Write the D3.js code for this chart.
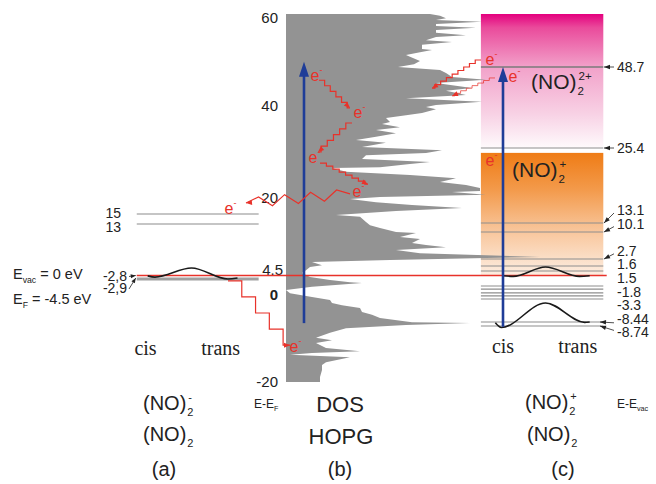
<!DOCTYPE html>
<html>
<head>
<meta charset="utf-8">
<script src="https://cdn.jsdelivr.net/npm/d3@7/dist/d3.min.js"></script>
<style>
  body { margin: 0; background: #fff; }
  svg { font-family: "Liberation Sans", Arial, sans-serif; }
</style>
</head>
<body>
<svg id="chart" width="656" height="484"></svg>
<script>
/***************************************************************
    Data
****************************************************************/
// HOPG density of states (E - E_F in eV, arbitrary DOS units)
const dosEnergy = [60.0, 59.6, 59.1, 58.7, 58.3, 57.8, 57.4, 57.0, 56.5, 55.9, 55.4, 55.0, 54.3, 53.9, 53.3,
  52.4, 52.2, 51.7, 51.1, 50.7, 49.8, 49.1, 48.5, 47.8, 47.2, 46.3, 45.7, 45.0, 43.9, 43.3, 42.4, 41.7,
  40.9, 40.2, 39.8, 39.3, 38.5, 38.0, 37.4, 36.5, 36.1, 35.4, 34.8, 34.1, 33.3, 32.6, 32.0, 31.1, 30.4,
  29.8, 29.3, 28.5, 27.8, 27.4, 26.7, 26.5, 25.7, 25.0, 24.3, 23.5, 22.8, 22.2, 21.5, 21.3, 20.7, 20.2,
  19.8, 19.1, 18.5, 17.8, 17.2, 16.3, 15.9, 14.8, 14.1, 13.5, 12.6, 12.4, 11.5, 11.1, 10.2, 9.8, 9.3,
  8.7, 8.0, 7.2, 6.5, 6.1, 5.4, 5.0, 4.3, 3.7, 2.8, 2.2, 1.7, 1.5, 0.7, 0.0, -0.7, -1.5, -2.2, -2.8,
  -3.3, -3.9, -4.8, -5.4, -6.1, -7.0, -7.2, -7.6, -8.3, -9.3, -10.4, -10.9, -11.5, -12.6, -13.3, -13.7,
  -14.1, -14.6, -15.7, -16.3, -17.4, -18.9, -20.0];
const dosValue = [72, 77, 80, 75, 98, 75, 75, 95, 75, 75, 90, 75, 70, 83, 68,
  68, 73, 67, 60, 62, 67, 64, 56, 77, 80, 83, 100, 75, 93, 80, 90, 60,
  98, 75, 70, 75, 68, 60, 50, 52, 48, 57, 45, 55, 45, 35, 50, 38, 78,
  70, 40, 38, 72, 62, 47, 23, 30, 62, 85, 77, 90, 97, 97, 83, 100, 47,
  32, 45, 63, 88, 55, 25, 37, 40, 42, 47, 55, 65, 57, 67, 63, 70, 80,
  55, 67, 127, 52, 13, 18, 12, 10, 8, 12, 22, 32, 38, 13, 0, 2, 13, 22, 23,
  28, 37, 38, 43, 47, 63, 92, 60, 30, 22, 15, 23, 15, 20, 37, 13,
  2, 32, 20, 18, 18, 17, 17];
const dosTicks = [60, 40, 20, 4.5, 0, -20];

// (a) (NO)2- levels, E - E_vac in eV
const anionLevels = [15, 13];
const anionGround = -2.9;
const anionLabels = [15, 13, -2.8, -2.9];
const anionLabelText = ["15", "13", "-2,8", "-2,9"];
const anionCurveQ = [-0.1, 0, 0.5, 1, 1.13];
const anionCurveE = [-2.81, -2.845, -0.5, -2.9, -2.87];

// (c) (NO)2+ / (NO)2 levels, E - E_vac in eV
const cationLevels = [48.7, 25.4, 13.1, 10.1, 2.7, 1.6, 1.5, -1.8, -2.15, -2.6, -2.95, -3.3, -8.44, -8.74];
const cationLabels = ["48.7", "25.4", "13.1", "10.1", "2.7", "1.6", "1.5", "-1.8", "-3.3", "-8.44", "-8.74"];
const cationArrowed = ["48.7", "25.4", "13.1", "10.1", "2.7", "-8.44", "-8.74"];
const upperCurveQ = [0, 0.12, 0.5, 0.9, 1.02];
const upperCurveE = [-0.05, -0.15, 1.58, -0.15, -0.05];
const lowerCurveQ = [-0.09, -0.02, 0.5, 0.96, 1.02];
const lowerCurveE = [-8.5, -8.85, -4.2, -8.47, -8.44];

// excitations (blue arrows)
const dosExcitation = [-7.2, 49.6];      // E - E_F
const cationExcitation = [-8.8, 48.7];   // E - E_vac

// electron hops, in DOS frame [dos units, E - E_F]
const hopFrom = [[16.5, 45.6], [33, 36.3], [17, 27.6], [32, 20.9], [97.5, 50.0], [104.5, 46.1], [-29, 2.0]];
const hopTo   = [[32, 39.6], [16, 30.0], [41, 23.0], [-20, 18.9], [73, 43.9], [83, 42.2], [2, -12.0]];
const electronAt = [[14.5, 46.5], [36, 38.3], [13.5, 28.5], [35.5, 21.1], [-28.5, 17.6],
  [102, 49.8], [113.5, 46.1], [102, 28.0], [4, -12.6]];

/***************************************************************
    Scales
****************************************************************/
const RED = "#e8322a", BLUE = "#1f3d98", GRAY = "#939393";
const svg = d3.select("#chart");
const defs = svg.append("defs");

const xDos = d3.scaleLinear().domain([0, 100]).range([286, 486]);
const yDos = d3.scaleLinear().domain([60, -20]).range([14, 382]);

// schematic (broken) energy axes of panels (a) and (c)
const yAnion = d3.scaleLinear().domain([15, 13, -2.8, -2.9]).range([214, 224, 275.5, 279]);
const yVac = d3.scaleLinear()
  .domain([60, 48.7, 25.4, 13.1, 10.1, 2.7, 1.6, 1.5, 0, -1.8, -3.3, -8.44, -8.74])
  .range([14, 67, 148, 223, 232, 259, 266, 271, 275.5, 286, 299, 322, 326]);
const xA = d3.scaleLinear().domain([0, 1]).range([155, 228]);   // cis .. trans
const xC = d3.scaleLinear().domain([0, 1]).range([503, 588]);
const spanA = [-0.25, 1.42], spanC = [-0.26, 1.18];

/***************************************************************
    Helpers
****************************************************************/
function arrowHead(g, tip, angle, len, wid, color) {
  const ux = Math.cos(angle), uy = Math.sin(angle);
  const bx = tip[0] - ux * len, by = tip[1] - uy * len;
  g.append("polygon")
    .attr("points", [[tip[0], tip[1]], [bx - uy * wid / 2, by + ux * wid / 2], [bx + uy * wid / 2, by - ux * wid / 2]].join(" "))
    .attr("fill", color);
}

function stairPoints(p0, p1, n) {
  const hx = (p1[0] - p0[0]) / (n + 0.5), vy = (p1[1] - p0[1]) / n;
  let x = p0[0], y = p0[1];
  const pts = [[x, y]];
  for (let i = 0; i < n; i++) { x += hx; pts.push([x, y]); y += vy; pts.push([x, y]); }
  pts.push(p1);
  return pts;
}

function zigPoints(p0, p1, halfPeriod, amp) {
  const dx = p1[0] - p0[0], dy = p1[1] - p0[1], L = Math.hypot(dx, dy);
  const n = Math.max(2, Math.round(L / halfPeriod));
  const nx = -dy / L, ny = dx / L;
  const pts = [p0];
  for (let i = 1; i < n; i++) {
    const s = (i % 2 ? amp : -amp), t = i / n;
    pts.push([p0[0] + dx * t + nx * s, p0[1] + dy * t + ny * s]);
  }
  pts.push(p1);
  return pts;
}

// chemical formula with stacked sub/superscripts
function formula(x, y, size, main, sub, sup) {
  const t = svg.append("text").attr("x", x).attr("y", y).attr("font-size", size).attr("fill", "#222").text(main);
  const w = t.node().getComputedTextLength();
  if (sub) svg.append("text").attr("x", x + w + 1).attr("y", y + size * 0.3).attr("font-size", size * 0.55).attr("fill", "#222").text(sub);
  if (sup) svg.append("text").attr("x", x + w + 2).attr("y", y - size * 0.45).attr("font-size", size * 0.55).attr("fill", "#222").text(sup);
}

function subLabel(x, y, size, main, sub) {
  const t = svg.append("text").attr("x", x).attr("y", y).attr("font-size", size).attr("fill", "#222");
  t.append("tspan").text(main);
  t.append("tspan").attr("font-size", size * 0.6).attr("dy", size * 0.25).text(sub);
  return t;
}

/***************************************************************
    Panel (c) background boxes
****************************************************************/
function gradient(id, y1, y2, stops) {
  const g = defs.append("linearGradient").attr("id", id)
    .attr("gradientUnits", "userSpaceOnUse").attr("x1", 0).attr("x2", 0).attr("y1", y1).attr("y2", y2);
  stops.forEach(s => g.append("stop").attr("offset", s[0]).attr("stop-color", s[1]));
}
gradient("pink", yVac(60), yVac(25.4), [[0, "#e4007e"], [0.1, "#ea4a9b"], [0.4, "#f2a2ca"], [0.75, "#f8d2e5"], [1, "#fefafc"]]);
gradient("orange", yVac(24.6), yVac(0), [[0, "#ef7c16"], [0.3, "#f39a4b"], [0.62, "#f8c498"], [1, "#fdeee2"]]);

svg.append("rect").attr("x", xC(spanC[0])).attr("width", xC(spanC[1]) - xC(spanC[0]))
  .attr("y", yVac(60)).attr("height", yVac(25.4) - yVac(60)).attr("fill", "url(#pink)");
svg.append("rect").attr("x", xC(spanC[0])).attr("width", xC(spanC[1]) - xC(spanC[0]))
  .attr("y", yVac(24.6)).attr("height", yVac(0) - yVac(24.6)).attr("fill", "url(#orange)");

/***************************************************************
    DOS (b)
****************************************************************/
const dos = dosEnergy.map((e, i) => ({ e: e, v: dosValue[i] }));
svg.append("path").datum(dos)
  .attr("fill", GRAY)
  .attr("d", d3.area().y(d => yDos(d.e)).x0(xDos(0)).x1(d => xDos(d.v)));

const axis = svg.append("g").attr("transform", "translate(278,0)")
  .call(d3.axisLeft(yDos).tickValues(dosTicks).tickSize(0).tickPadding(0).tickFormat(d => d));
axis.select(".domain").remove();
axis.selectAll("text").attr("font-size", 15).attr("fill", "#222").attr("font-family", "Liberation Sans, Arial, sans-serif");
axis.selectAll(".tick").filter(d => d === 0).select("text").attr("font-weight", "bold").attr("dy", "0.65em");
axis.selectAll(".tick").filter(d => d === 4.5).select("text").attr("x", 5);
axis.selectAll(".tick").filter(d => d === 60).select("text").attr("dy", "0.55em");

/***************************************************************
    Levels
****************************************************************/
// (a)
svg.selectAll(".lvA").data(anionLevels).enter().append("line")
  .attr("x1", xA(spanA[0])).attr("x2", xA(spanA[1]))
  .attr("y1", d => yAnion(d)).attr("y2", d => yAnion(d))
  .attr("stroke", "#8c8c8c").attr("stroke-width", 1.2);
svg.append("line").attr("x1", xA(spanA[0])).attr("x2", xA(spanA[1]))
  .attr("y1", yAnion(anionGround)).attr("y2", yAnion(anionGround))
  .attr("stroke", "#a0a0a0").attr("stroke-width", 3);

// (c)
svg.selectAll(".lvC").data(cationLevels).enter().append("line")
  .attr("x1", xC(spanC[0])).attr("x2", xC(spanC[1]))
  .attr("y1", d => yVac(d)).attr("y2", d => yVac(d))
  .attr("stroke", d => d === 48.7 ? "#7a7a7a" : "#8e8e8e")
  .attr("stroke-width", d => d === 48.7 ? 1.6 : 1.2);

// vacuum level
svg.append("line").attr("x1", xA(spanA[0])).attr("x2", xC(1.22))
  .attr("y1", yVac(0)).attr("y2", yVac(0)).attr("stroke", RED).attr("stroke-width", 1.6);

// potential curves
const lineQ = (xs, ys) => d3.line().x(d => xs(d[0])).y(d => ys(d[1])).curve(d3.curveMonotoneX);
[[anionCurveQ, anionCurveE, xA, yAnion], [upperCurveQ, upperCurveE, xC, yVac], [lowerCurveQ, lowerCurveE, xC, yVac]]
  .forEach(([q, e, xs, ys]) => {
    svg.append("path").datum(q.map((v, i) => [v, e[i]]))
      .attr("fill", "none").attr("stroke", "#1a1a1a").attr("stroke-width", 1.6)
      .attr("d", lineQ(xs, ys));
  });

/***************************************************************
    Excitation arrows
****************************************************************/
function blueArrow(x, y0, y1) {
  svg.append("line").attr("x1", x).attr("x2", x).attr("y1", y0).attr("y2", y1 + 12)
    .attr("stroke", BLUE).attr("stroke-width", 2.6);
  arrowHead(svg, [x, y1], -Math.PI / 2, 15, 10, BLUE);
}
blueArrow(xDos(9), yDos(dosExcitation[0]), yDos(dosExcitation[1]));
blueArrow(xC(0), yVac(cationExcitation[0]), yVac(cationExcitation[1]));

/***************************************************************
    Electron hops
****************************************************************/
const hops = svg.append("g");
hopFrom.forEach((f, i) => {
  const p0 = [xDos(f[0]), yDos(f[1])], p1 = [xDos(hopTo[i][0]), yDos(hopTo[i][1])];
  let pts;
  if (i === 3) pts = zigPoints(p0, p1, 12.5, 5);
  else if (i === 6) pts = stairPoints(p0, p1, 4);
  else pts = stairPoints(p0, p1, Math.max(4, Math.round(Math.max(Math.abs(p1[0] - p0[0]), Math.abs(p1[1] - p0[1])) / 6.5)));
  hops.append("path").attr("d", d3.line()(pts)).attr("fill", "none")
    .attr("stroke", RED).attr("stroke-width", i === 5 ? 0.9 : 1.2).attr("stroke-opacity", i === 5 ? 0.8 : 1);
  const b = pts[pts.length - 1];
  const ang = i === 6 ? 0 : Math.atan2(p1[1] - p0[1], p1[0] - p0[0]);
  arrowHead(hops, b, ang, 6, 5, RED);
});

electronAt.forEach(p => {
  const cx = xDos(p[0]), cy = yDos(p[1]);
  const t = svg.append("text").attr("x", cx - 4.5).attr("y", cy + 4.5).attr("font-size", 16).attr("fill", RED);
  t.append("tspan").text("e");
  t.append("tspan").attr("font-size", 9).attr("dy", -8).text("-");
});

/***************************************************************
    Labels
****************************************************************/
// (a) level labels
anionLabels.forEach((v, i) => {
  const y = yAnion(v) + (i === 3 ? 9 : 0) + (i === 1 ? 3 : 0) + (i === 0 ? -1 : 0);
  svg.append("text").attr("x", i < 2 ? 121 : 127).attr("y", y + 5).attr("text-anchor", "end")
    .attr("font-size", 14).attr("fill", "#222").text(anionLabelText[i]);
  if (i >= 2) {
    const tip = [xA(spanA[0]) - 1, yAnion(v) - (i === 3 ? 1 : 0)];
    const from = [129, y + 1];
    svg.append("line").attr("x1", from[0]).attr("y1", from[1]).attr("x2", tip[0]).attr("y2", tip[1])
      .attr("stroke", "#222").attr("stroke-width", 0.8);
    arrowHead(svg, tip, Math.atan2(tip[1] - from[1], tip[0] - from[0]), 5, 4, "#222");
  }
});

subLabel(13, 279, 14.5, "E", "vac").append("tspan").attr("dy", -14.5 * 0.25).text(" = 0 eV");
subLabel(13, 304, 14.5, "E", "F").append("tspan").attr("dy", -14.5 * 0.25).text(" = -4.5 eV");

// (c) level labels: 48.7, 25.4 beside their lines, the rest stacked
cationLabels.forEach((s, i) => {
  const v = +s;
  const ty = i < 2 ? yVac(v) : 210 + (i - 2 + (i > 3 ? 1 : 0)) * 13.6;
  svg.append("text").attr("x", 617).attr("y", ty + 5).attr("font-size", 14).attr("fill", "#222").text(s);
  if (cationArrowed.includes(s)) {
    const from = [614, ty + (i < 2 ? 0 : (v < 0 ? (v === -8.44 ? 4 : -2) : 3))];
    const tip = [v < -8 ? 600 : 604, yVac(v)];
    svg.append("line").attr("x1", from[0]).attr("y1", from[1]).attr("x2", tip[0]).attr("y2", tip[1])
      .attr("stroke", "#222").attr("stroke-width", 0.8);
    arrowHead(svg, tip, Math.atan2(tip[1] - from[1], tip[0] - from[0]), 6, 4.5, "#222");
  }
});

// cis / trans
const serif = "Liberation Serif, Times New Roman, serif";
[[xA(-0.13), 355, "cis"], [xA(0.9), 355, "trans"], [xC(0), 353, "cis"], [xC(0.88), 353, "trans"]].forEach(d => {
  svg.append("text").attr("x", d[0]).attr("y", d[1]).attr("text-anchor", "middle")
    .attr("font-family", serif).attr("font-size", 20).attr("fill", "#222").text(d[2]);
});

// species labels
formula(531, 89, 21, "(NO)", "2", "2+");
formula(512, 177, 21, "(NO)", "2", "+");
formula(143, 410, 20, "(NO)", "2", "-");
formula(143, 441, 20, "(NO)", "2");
formula(525, 409, 20, "(NO)", "2", "+");
formula(527, 441, 20, "(NO)", "2");

subLabel(254, 408, 12, "E-E", "F");
subLabel(617, 408, 12, "E-E", "vac");

[[340, 412, "DOS", 22], [341, 444, "HOPG", 22], [164, 476, "(a)", 20], [340, 476, "(b)", 20], [563, 476, "(c)", 20]]
  .forEach(d => {
    svg.append("text").attr("x", d[0]).attr("y", d[1]).attr("text-anchor", "middle")
      .attr("font-size", d[3]).attr("fill", "#222").text(d[2]);
  });
</script>
</body>
</html>
